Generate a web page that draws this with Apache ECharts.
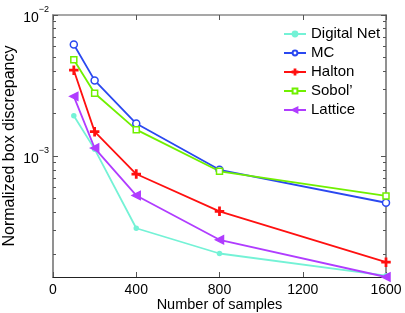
<!DOCTYPE html>
<html><head><meta charset="utf-8">
<script src="https://cdn.jsdelivr.net/npm/echarts@6/dist/echarts.min.js"></script>
<style>html,body{margin:0;padding:0;background:#fff}#c{width:405px;height:313px}</style>
</head><body><div id="c"></div>
<script>
var samples = [100, 200, 400, 800, 1600];
var digitalNet = [1.93e-3, 1.12e-3, 3.08e-4, 2.04e-4, 1.42e-4];
var mc = [6.18e-3, 3.44e-3, 1.70e-3, 8.0e-4, 4.67e-4];
var halton = [4.06e-3, 1.49e-3, 7.46e-4, 4.06e-4, 1.77e-4];
var sobol = [4.82e-3, 2.79e-3, 1.54e-3, 7.8e-4, 5.22e-4];
var lattice = [2.65e-3, 1.14e-3, 5.26e-4, 2.55e-4, 1.39e-4];
var xTicks = [0, 400, 800, 1200, 1600];
var yMajor = [1e-3, 1e-2];
var yMinor = [2e-4,3e-4,4e-4,5e-4,6e-4,7e-4,8e-4,9e-4,2e-3,3e-3,4e-3,5e-3,6e-3,7e-3,8e-3,9e-3];

function pairs(v){ return samples.map(function(s,i){return [s, v[i]];}); }
var font = 'Liberation Sans, Arial, sans-serif';
var yMin = 1.39e-4, yMax = 1e-2;

function yAxisBase(pos, major, showLabel){
  return {
    type:'log', logBase:10, min:yMin, max:yMax, position:pos,
    axisLine:{show:true, lineStyle:{color:'#8a8a8a', width:1.5}},
    splitLine:{show:false},
    axisTick:{show:true, inside:true, length: major?5:3, lineStyle:{color:'#555', width:1},
      customValues: major ? yMajor : yMinor},
    axisLabel:{show:showLabel, customValues:yMajor, margin:4, color:'#000', fontFamily:font,
      formatter:function(v){ return v > 0.005 ? '{b|10}{s|\u22122}' : '{b|10}{s|\u22123}'; },
      rich:{ b:{fontSize:14, fontFamily:font, color:'#000', padding:[6,0,0,0]},
             s:{fontSize:9, fontFamily:font, color:'#000', verticalAlign:'top', padding:[0,0,6,0]} } }
  };
}
function xAxisBase(pos, showLabel){
  return {
    type:'value', min:0, max:1600, interval:400, position:pos,
    axisLine:{show:true, onZero:false, lineStyle:{color: pos==='bottom' ? '#222' : '#8a8a8a', width: pos==='bottom'?1.2:1.5}},
    splitLine:{show:false},
    axisTick:{show:true, inside:true, length:5, lineStyle:{color:'#555', width:1}},
    axisLabel:{show:showLabel, color:'#000', fontSize:14, fontFamily:font, margin:6,
      formatter:function(v){ return String(v); }},
    name: showLabel ? 'Number of samples' : '', nameLocation:'middle', nameGap:20, nameMoveOverlap:false,
    nameTextStyle:{color:'#000', fontSize:14.5, fontFamily:font, verticalAlign:'top'}
  };
}
var yl = yAxisBase('left', true, true);
yl.name = 'Normalized box discrepancy'; yl.nameLocation='middle'; yl.nameGap=35; yl.nameMoveOverlap=false;
yl.nameTextStyle = {color:'#000', fontSize:16, fontFamily:font, verticalAlign:'bottom'};

function ser(name, data, color, symbol, size, fill){
  return {name:name, type:'line', data:pairs(data), xAxisIndex:0, yAxisIndex:0,
    symbol:symbol, symbolSize:size, showSymbol:true,
    lineStyle:{color:color, width:1.8}, itemStyle:{color: fill?color:'#fff', borderColor:color, borderWidth:1.5},
    emphasis:{disabled:true}, animation:false};
}
var plus = 'path://M-0.8,-5H0.8V-0.8H5V0.8H0.8V5H-0.8V0.8H-5V-0.8H-0.8Z';
var ltri = 'path://M0,5L10,0L10,10Z';

var chart = echarts.init(document.getElementById('c'), null, {renderer:'canvas'});
chart.setOption({
  animation:false,
  backgroundColor:'#fff',
  grid:{left:53, top:15, width:333, height:262, containLabel:false, outerBoundsMode:'none'},
  xAxis:[xAxisBase('bottom', true), xAxisBase('top', false)],
  yAxis:[yl, yAxisBase('left', false, false), yAxisBase('right', true, false), yAxisBase('right', false, false)],
  legend:{orient:'vertical', left:278, top:21, itemWidth:22, itemHeight:6, itemGap:3,
    textStyle:{fontSize:15, lineHeight:16, fontFamily:font, color:'#000'},
    data:['Digital Net','MC','Halton','Sobol\u2019','Lattice']},
  series:[
    ser('Digital Net', digitalNet, '#74f2d6', 'circle', 4, true),
    ser('MC', mc, '#2a48f0', 'circle', 7, false),
    ser('Halton', halton, '#ff1010', plus, 8, true),
    ser('Sobol\u2019', sobol, '#70f000', 'rect', 6, false),
    ser('Lattice', lattice, '#b03cff', ltri, 8, true)
  ]
});
</script></body></html>
